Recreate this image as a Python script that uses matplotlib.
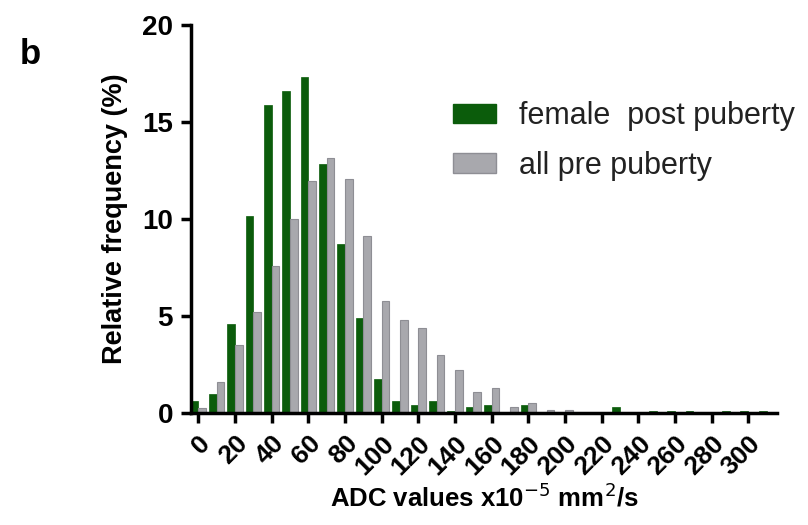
import numpy as np
import matplotlib
matplotlib.use('Agg')
import matplotlib.pyplot as plt
from matplotlib.patches import Patch

plt.rcParams['font.family'] = ['Liberation Sans', 'DejaVu Sans']

# ADC histogram bins (x10^-5 mm^2/s), 10-unit wide
bins = np.arange(0, 320, 10)
female_post = [0.6, 1.0, 4.6, 10.15, 15.9, 16.6, 17.3, 12.85, 8.7, 4.9,
               1.75, 0.6, 0.4, 0.6, 0.08, 0.3, 0.43, 0.0, 0.4, 0.0,
               0.0, 0.0, 0.0, 0.33, 0.0, 0.1, 0.1, 0.1, 0.0, 0.1,
               0.1, 0.1]
all_pre = [0.25, 1.6, 3.5, 5.2, 7.6, 10.0, 11.95, 13.15, 12.05, 9.15,
           5.8, 4.8, 4.4, 3.0, 2.2, 1.1, 1.3, 0.3, 0.5, 0.17,
           0.17, 0.0, 0.0, 0.0, 0.0, 0.0, 0.0, 0.0, 0.0, 0.0,
           0.0, 0.0]
xticks = np.arange(0, 301, 20)
yticks = [0, 5, 10, 15, 20]

green = '#0b5c0b'
grey = '#a8a8ad'

fig = plt.figure(figsize=(8.08, 5.25), dpi=100)
ax = fig.add_axes([0.2364, 0.2133, 0.7252, 0.739])

w = 4.2
ax.bar(bins - w / 2, female_post, width=w, color=green, edgecolor=green, linewidth=0.5)
ax.bar(bins + w / 2, all_pre, width=w, color=grey, edgecolor='#8e8e94', linewidth=0.8)

ax.set_xlim(-4, 315.7)
ax.set_ylim(0, 20)
ax.set_xticks(xticks)
ax.set_xticklabels([str(t) for t in xticks], rotation=45, ha='right',
                   rotation_mode='anchor', fontsize=19, fontweight='bold')
ax.set_yticks(yticks)
ax.set_yticklabels([str(t) for t in yticks], fontsize=20, fontweight='bold')

for s in ['top', 'right']:
    ax.spines[s].set_visible(False)
for s in ['left', 'bottom']:
    ax.spines[s].set_linewidth(2.5)
ax.tick_params(axis='both', direction='out', length=7, width=2.5)
ax.tick_params(axis='x', pad=6)
ax.tick_params(axis='y', pad=6)

ax.set_xlabel('ADC values x10$^{-5}$ mm$^2$/s', fontsize=18.5, fontweight='bold', labelpad=3)
ax.set_ylabel('Relative frequency (%)', fontsize=19.5, fontweight='bold', labelpad=10)

handles = [Patch(facecolor=green, edgecolor=green),
           Patch(facecolor=grey, edgecolor='#8e8e94')]
ax.legend(handles, ['female  post puberty', 'all pre puberty'], loc='upper left',
          bbox_to_anchor=(0.40, 0.875), frameon=False, fontsize=22,
          handlelength=1.4, handleheight=0.6, handletextpad=0.75, labelspacing=0.65,
          labelcolor='#222222')

fig.text(0.025, 0.878, 'b', fontsize=25, fontweight='bold')

fig.savefig('out.png', dpi=100)
